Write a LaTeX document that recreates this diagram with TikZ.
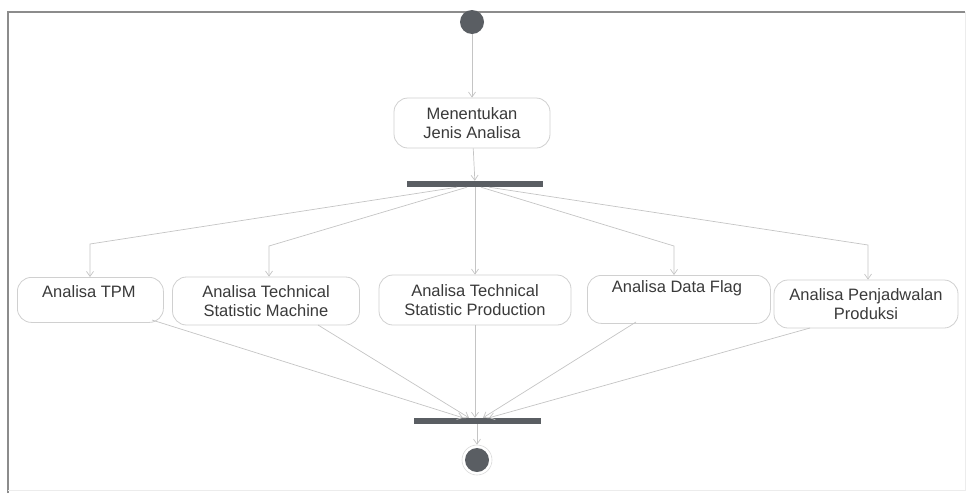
\documentclass[tikz,border=0pt]{standalone}
\usepackage{fontspec}
\setmainfont{Liberation Sans}
\usetikzlibrary{arrows.meta}
\definecolor{edge}{HTML}{C4C4C4}
\definecolor{boxline}{HTML}{D0D0D0}
\definecolor{barfill}{HTML}{5A5E63}
\definecolor{txt}{HTML}{3A3A3A}
\begin{document}
\begin{tikzpicture}[x=1pt,y=-1pt,
  lbl/.style={text=txt, font=\fontsize{16.5}{19.5}\selectfont, align=center},
  act/.style={lbl, draw=boxline, line width=0.8pt, rounded corners=14pt, fill=white, inner sep=0pt},
  bar/.style={fill=barfill, draw=none, minimum height=6pt, inner sep=0pt},
  flow/.style={draw=edge, line width=0.7pt, -{Straight Barb[length=5pt,width=7pt]}},
  dot/.style={circle, fill=barfill, draw=none, minimum size=24pt, inner sep=0pt}]
\useasboundingbox (0,0) rectangle (969,493);
% frame
\draw[draw=gray!90, line width=1.2pt] (8,493) -- (8,12) -- (965,12);
\draw[draw=gray!15, line width=0.8pt] (965,12) -- (965,490) -- (8,490);

% nodes
\node[dot] (start) at (472,22) {};
\node[act, minimum width=156pt, minimum height=50pt] (det) at (472,123) {Menentukan\\Jenis Analisa};
\node[bar, minimum width=136pt] (fork) at (475,184) {};

\node[act, minimum width=146pt, minimum height=45pt, anchor=north west] (tpm) at (17,277) {};
\node[lbl] (tpmt) at (89,292) {Analisa TPM};
\node[act, minimum width=187pt, minimum height=48pt] (tsm) at (266,301) {Analisa Technical\\Statistic Machine};
\node[act, minimum width=192pt, minimum height=50pt] (tsp) at (475,300) {Analisa Technical\\Statistic Production};
\node[act, minimum width=183pt, minimum height=48pt, anchor=north west] (df) at (587,275) {};
\node[lbl] (dft) at (677,288) {Analisa Data Flag};
\node[act, minimum width=184pt, minimum height=48pt] (pp) at (866,304) {Analisa Penjadwalan\\Produksi};

\node[bar, minimum width=127pt] (join) at (477,421) {};
\node[circle, draw=gray!30, line width=0.6pt, minimum size=30pt, inner sep=0pt] (endring) at (477,460) {};
\node[dot] (end) at (477,460) {};

% start and fork
\draw[flow] (start) -- (det);
\draw[flow] (det) -- (fork);
\coordinate (k1) at (90,244);
\coordinate (k2) at (269,246);
\coordinate (k4) at (674,246);
\coordinate (k5) at (868,245);
\draw[flow] ([xshift=-18pt]fork.south) -- (k1) -- (tpm.north -| k1);
\draw[flow] ([xshift=-8pt]fork.south) -- (k2) -- (tsm.north -| k2);
\draw[flow] (fork.south) -- (tsp.north);
\draw[flow] ([xshift=6pt]fork.south) -- (k4) -- (df.north -| k4);
\draw[flow] ([xshift=14pt]fork.south) -- (k5) -- (pp.north -| k5);

% join and end
\draw[flow] (152,320) -- ([xshift=-14pt]join.north);
\draw[flow] (318,325) -- ([xshift=-8pt]join.north);
\draw[flow] (tsp.south) -- (join.north -| tsp.south);
\draw[flow] (636,322) -- ([xshift=6pt]join.north);
\draw[flow] (810,328) -- ([xshift=12pt]join.north);
\draw[flow] (join) -- (endring);
\end{tikzpicture}
\end{document}
